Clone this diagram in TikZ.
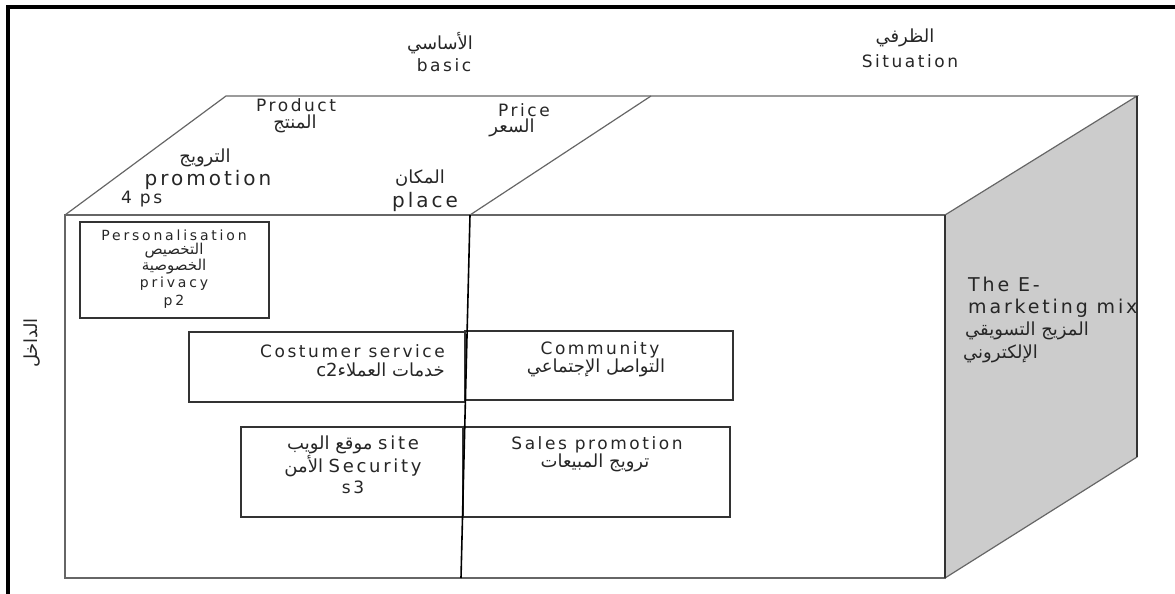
\documentclass[tikz,border=0pt]{standalone}
\usepackage{fontspec}
\setmainfont{DejaVu Sans}
\newfontfamily\latsp[LetterSpace=15]{DejaVu Sans}
\newfontfamily\latspw[LetterSpace=20]{DejaVu Sans}
\newfontfamily\arabicfont[Script=Arabic]{DejaVu Sans}
\TeXXeTstate=1
\tikzset{
  frameline/.style={line width=4.5pt, black},
  cubeedge/.style={draw=black!60, line width=1.2pt, line join=miter},
  darkedge/.style={draw=black!80, line width=1.3pt},
  divider/.style={draw=black, line width=1.6pt},
  cellbox/.style={draw=black!80, line width=1.1pt, inner sep=0pt, outer sep=0pt},
  txt/.style={inner sep=0pt, text=black!85},
  latn/.style={txt, font=\fontsize{17}{20}\selectfont\latsp},
  latnbig/.style={txt, font=\fontsize{20}{23}\selectfont\latsp},
  latnside/.style={txt, font=\fontsize{19}{22}\selectfont\latsp},
  latnsmall/.style={txt, font=\fontsize{14}{16}\selectfont\latspw},
  arab/.style={txt, font=\fontsize{18}{21}\selectfont\arabicfont},
  arabsmall/.style={txt, font=\fontsize{15}{17}\selectfont\arabicfont},
}
\begin{document}
\begin{tikzpicture}[x=1pt,y=-1pt]
\useasboundingbox (0,0) rectangle (1175,594);

% page frame (top and left rules)
\coordinate (fTL) at (8,7);
\coordinate (fTR) at (1175,7);
\coordinate (fBL) at (8,594);
\draw[frameline] (fTR) -- (fTL) -- (fBL);

% cube corners
\coordinate (A) at (65,215);   % front top left
\coordinate (B) at (945,215);  % front top right
\coordinate (C) at (945,578);  % front bottom right
\coordinate (D) at (65,578);   % front bottom left
\coordinate (E) at (226,96);   % back top left
\coordinate (F) at (1137,96);  % back top right
\coordinate (G) at (1137,457); % back bottom right
\coordinate (M1) at (651,96);
\coordinate (M2) at (470,215);
\coordinate (M3) at (461,578);

% shaded side face
\fill[black!20] (B) -- (F) -- (G) -- (C) -- cycle;
\draw[cubeedge] (A) -- (E) -- (F) -- (B);
\draw[cubeedge] (A) -- (B) -- (C) -- (D) -- cycle;
\draw[cubeedge] (F) -- (G) -- (C);
\draw[darkedge] (B) -- (C);
\draw[darkedge] (F) -- (G);
\draw[cubeedge] (M1) -- (M2);

% cells on the front face
\node[cellbox, minimum width=189pt, minimum height=96pt] (pers) at (174.5,270) {};
\node[cellbox, minimum width=276pt, minimum height=70pt] (cust) at (327,367) {};
\node[cellbox, minimum width=268pt, minimum height=69pt] (comm) at (599,365.5) {};
\node[cellbox, minimum width=222pt, minimum height=90pt] (site) at (352,472) {};
\node[cellbox, minimum width=267pt, minimum height=90pt] (sales) at (596.5,472) {};

\draw[divider] (M2) -- (M3);

% headings above the cube
\node[arab] (basicAr) at (440,43) {\beginR الأساسي\endR};
\node[latn] (basic) at (444,65) {basic};
\node[arab] (sitAr) at (905,38) {\beginR الظرفي\endR};
\node[latn] (sit) at (910,61) {Situation};

% top face: the 4 ps
\node[latn, anchor=west] (product) at (256,105) {Product};
\node[arab] (productAr) at (295,124) {\beginR المنتج\endR};
\node[latn] (price) at (524,110) {Price};
\node[arab] (priceAr) at (512,128) {\beginR السعر\endR};
\node[arab] (promoAr) at (205,158) {\beginR الترويج\endR};
\node[latnbig] (promo) at (208,180) {promotion};
\node[latn, anchor=west] (fourps) at (121,199) {4 ps};
\node[arab] (placeAr) at (420,178) {\beginR المكان\endR};
\node[latnbig] (place) at (425,202) {place};

% left side label
\node[arab, rotate=90] (inside) at (32,343) {\beginR الداخل\endR};

% personalisation cell
\node[latnsmall] (persT1) at (174,235) {Personalisation};
\node[arabsmall] (persT2) at (174,251) {\beginR التخصيص\endR};
\node[arabsmall] (persT3) at (174,267) {\beginR الخصوصية\endR};
\node[latnsmall] (persT4) at (174,284) {privacy};
\node[latnsmall] (persT5) at (174,302) {p2};

% customer service cell
\node[latn, anchor=east] (custT1) at (445,351) {Costumer service};
\node[arab, anchor=east] (custT2) at (445,370) {\beginR خدمات العملاء\beginL c2\endL\endR};

% community cell
\node[latn] (commT1) at (600,350) {Community};
\node[arab] (commT2) at (596,368) {\beginR التواصل الإجتماعي\endR};

% web site security cell
\node[arab] (siteT1) at (353,445) {\beginR\beginL{\latsp site}\endL{} موقع الويب\endR};
\node[arab] (siteT2) at (353,466) {\beginR\beginL{\latsp Security}\endL{} الأمن\endR};
\node[latn] (siteT3) at (353,487) {s3};

% sales promotion cell
\node[latn] (salesT1) at (597,445) {Sales promotion};
\node[arab] (salesT2) at (595,463) {\beginR ترويج المبيعات\endR};

% side face caption
\node[latnside, anchor=west] (sideT1) at (968,284) {The E-};
\node[latnside, anchor=west] (sideT2) at (968,308) {marketing mix};
\node[arab, anchor=west] (sideT3) at (965,331) {\beginR المزيج التسويقي\endR};
\node[arab, anchor=west] (sideT4) at (963,354) {\beginR الإلكتروني\endR};
\end{tikzpicture}
\end{document}
